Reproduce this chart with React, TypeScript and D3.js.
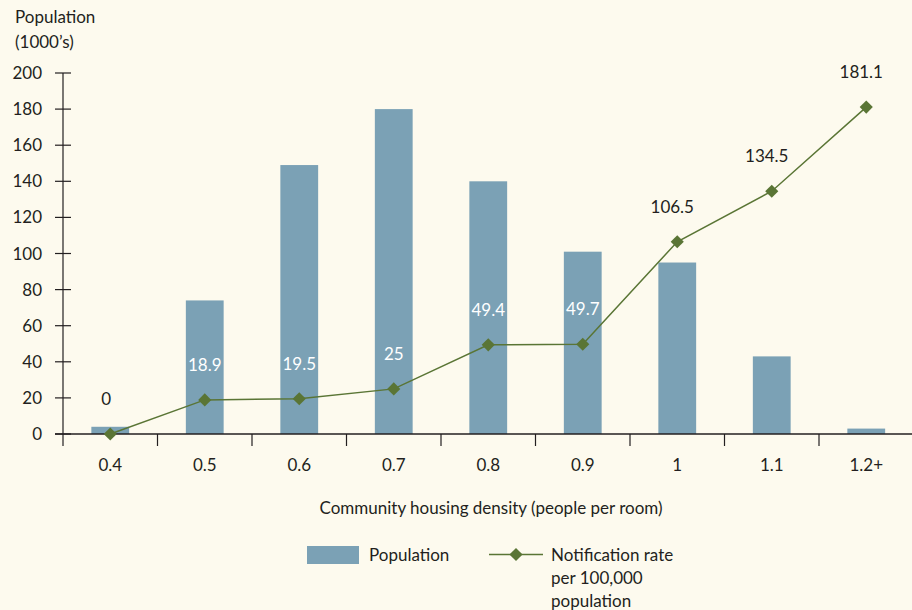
import React from 'react';
import * as d3 from 'd3';

const categories = ['0.4', '0.5', '0.6', '0.7', '0.8', '0.9', '1', '1.1', '1.2+'];
const population = [4, 74, 149, 180, 140, 101, 95, 43, 3];
const notificationRate = [0, 18.9, 19.5, 25, 49.4, 49.7, 106.5, 134.5, 181.1];
const labelInsideBar = [false, true, true, true, true, true, false, false, false];
const yTicks = [0, 20, 40, 60, 80, 100, 120, 140, 160, 180, 200];

const W = 912;
const H = 610;
const BG = '#fdfaee';
const BAR = '#7ba1b5';
const LINE = '#5a7535';
const TEXT = '#231f20';
const FONT = 'Lato, "Open Sans", sans-serif';
const FS = 17;

const App: React.FC = () => {
  const x = d3.scaleBand<string>().domain(categories).range([63, 913.5]).paddingInner(0.6).paddingOuter(0.3);
  const step = x.step();
  const y = d3.scaleLinear().domain([0, 200]).range([434, 73]);

  const cx = (i: number) => (x(categories[i]) || 0) + x.bandwidth() / 2;

  const line = d3
    .line<number>()
    .x((_, i) => cx(i))
    .y((d) => y(d));

  const diamond = d3.symbol().type(d3.symbolDiamond2).size(110)() || '';

  return (
    <svg
      width={W}
      height={H}
      style={{ position: 'fixed', left: 0, top: 0, display: 'block' }}
      fontFamily={FONT}
    >
      <rect width={W} height={H} fill={BG} />

      <text x={15} y={23} fontSize={FS} fill={TEXT}>Population</text>
      <text x={15} y={48} fontSize={FS} fill={TEXT}>(1000’s)</text>

      {/* bars */}
      {population.map((v, i) => (
        <rect
          key={categories[i]}
          x={x(categories[i])}
          y={y(v)}
          width={x.bandwidth()}
          height={y(0) - y(v)}
          fill={BAR}
        />
      ))}

      {/* y axis */}
      <line x1={63} x2={63} y1={y(200)} y2={y(0)} stroke={TEXT} strokeWidth={1.2} />
      {yTicks.map((t) => (
        <g key={t}>
          <line x1={55} x2={71} y1={y(t)} y2={y(t)} stroke={TEXT} strokeWidth={1.2} />
          <text x={42} y={y(t) + 6} fontSize={FS} textAnchor="end" fill={TEXT}>{t}</text>
        </g>
      ))}

      {/* x axis */}
      <line x1={55} x2={W} y1={y(0)} y2={y(0)} stroke={TEXT} strokeWidth={1.5} />
      {categories.map((c, i) => (
        <g key={c}>
          <line
            x1={63 + i * step}
            x2={63 + i * step}
            y1={y(0)}
            y2={y(0) + 12}
            stroke={TEXT}
            strokeWidth={1.2}
          />
          <text x={cx(i)} y={471} fontSize={FS} textAnchor="middle" fill={TEXT}>{c}</text>
        </g>
      ))}
      <text x={491} y={514} fontSize={FS} textAnchor="middle" fill={TEXT}>
        Community housing density (people per room)
      </text>

      {/* line series */}
      <path d={line(notificationRate) || ''} fill="none" stroke={LINE} strokeWidth={1.5} />
      {notificationRate.map((v, i) => (
        <path key={i} d={diamond} transform={`translate(${cx(i)},${y(v)})`} fill={LINE} />
      ))}
      {notificationRate.map((v, i) => (
        <text
          key={'l' + i}
          x={i >= 6 ? cx(i) - 5 : i === 0 ? cx(i) - 4 : cx(i)}
          y={y(v) - 29}
          fontSize={FS}
          textAnchor="middle"
          fill={labelInsideBar[i] ? '#ffffff' : TEXT}
        >
          {v}
        </text>
      ))}

      {/* legend */}
      <rect x={307} y={546} width={52} height={18} fill={BAR} />
      <text x={369} y={561} fontSize={FS} fill={TEXT}>Population</text>
      <line x1={489} x2={543} y1={554.5} y2={554.5} stroke={LINE} strokeWidth={1.5} />
      <path d={diamond} transform="translate(516,554.5)" fill={LINE} />
      <text x={551} y={561} fontSize={FS} fill={TEXT}>Notification rate</text>
      <text x={551} y={584} fontSize={FS} fill={TEXT}>per 100,000</text>
      <text x={551} y={607} fontSize={FS} fill={TEXT}>population</text>
    </svg>
  );
};

export default App;
